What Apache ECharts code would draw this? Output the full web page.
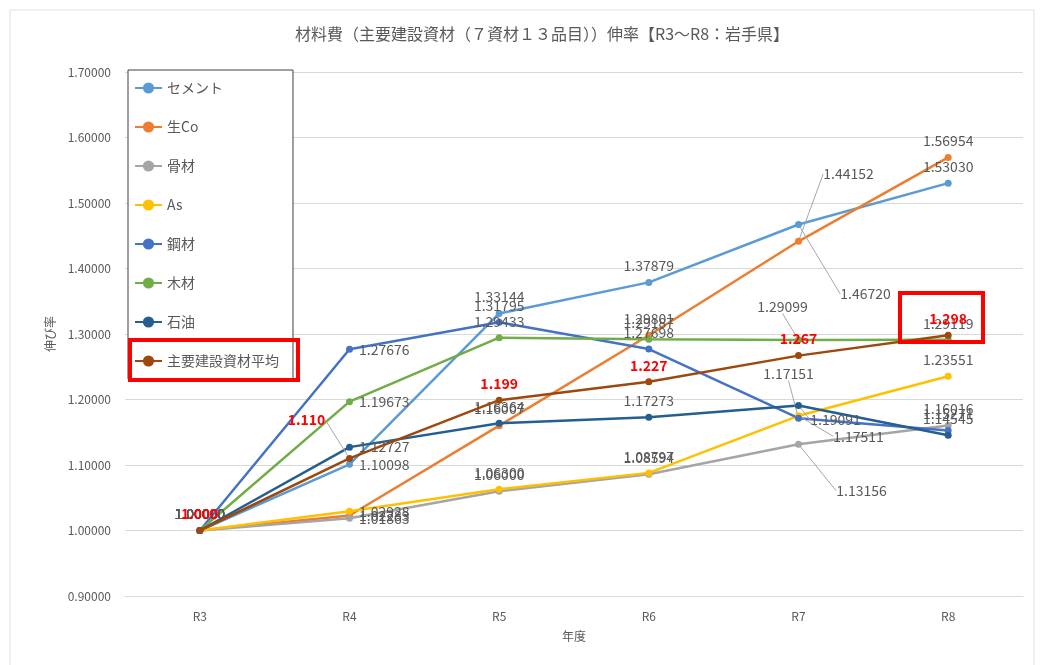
<!DOCTYPE html>
<html>
<head>
<meta charset="utf-8">
<script src="https://cdn.jsdelivr.net/npm/echarts@6/dist/echarts.min.js"></script>
<style>
  html, body { margin: 0; padding: 0; background: #fff; }
  #chart { width: 1045px; height: 665px; }
</style>
</head>
<body>
<div id="chart"></div>
<script>
  // 年度
  var categories = ['R3', 'R4', 'R5', 'R6', 'R7', 'R8'];

  // 各資材の伸び率
  var cement  = [1.00000, 1.10098, 1.33144, 1.37879, 1.46720, 1.53030];
  var namaCo  = [1.00000, 1.02283, 1.16007, 1.29801, 1.44152, 1.56954];
  var kotsu   = [1.00000, 1.01863, 1.06000, 1.08594, 1.13156, 1.16016];
  var asphalt = [1.00000, 1.02928, 1.06300, 1.08797, 1.17511, 1.23551];
  var steel   = [1.00000, 1.27676, 1.31795, 1.27698, 1.17151, 1.15271];
  var wood    = [1.00000, 1.19673, 1.29433, 1.29187, 1.29099, 1.29119];
  var oil     = [1.00000, 1.12727, 1.16364, 1.17273, 1.19091, 1.14545];
  var average = [1.000, 1.110, 1.199, 1.227, 1.267, 1.298];

  // ラベルの引き出し位置 (dataIndex -> [dx, dy])
  var shifts = {
    'セメント': { 4: [67, 86] },
    '生Co': { 4: [50, -51] },
    '骨材': { 4: [63, 63] },
    'As': { 4: [60, 37] },
    '鋼材': { 4: [-10, -28] },
    '木材': { 4: [-16, -17] },
    '石油': { 4: [37, 31] },
    '主要建設資材平均': { 1: [-43, -22] }
  };

  var gray = '#595959';
  var font = '"Noto Sans CJK JP", "Noto Sans", sans-serif';

  function makeSeries(name, values, color, isAvg) {
    var sh = shifts[name] || {};
    return {
      name: name,
      type: 'line',
      data: values.map(function (v, i) {
        return {
          value: v,
          label: { position: (i === 1 && !isAvg) ? 'right' : 'top' },
          labelLine: { show: !!sh[i] }
        };
      }),
      symbol: 'circle',
      symbolSize: 7,
      lineStyle: { width: 2.5, color: color },
      itemStyle: { color: color },
      label: {
        show: true,
        fontFamily: font,
        fontSize: 14,
        fontWeight: isAvg ? 'bold' : 'normal',
        color: isAvg ? '#ff0000' : gray,
        distance: 6,
        formatter: function (p) {
          return p.value.toFixed(isAvg ? 3 : 5);
        }
      },
      labelLine: { lineStyle: { color: '#a6a6a6', width: 1 } },
      labelLayout: function (params) {
        var s = sh[params.dataIndex];
        if (s) return { dx: s[0], dy: s[1] };
        return {};
      },
      z: isAvg ? 5 : 2
    };
  }

  var myChart = echarts.init(document.getElementById('chart'));

  myChart.setOption({
    backgroundColor: '#fff',
    animation: false,
    title: {
      text: '材料費（主要建設資材（７資材１３品目））伸率【R3～R8：岩手県】',
      left: 290,
      top: 21,
      textStyle: { fontFamily: font, fontSize: 16, fontWeight: 'normal', color: gray }
    },
    legend: {
      orient: 'vertical',
      left: 128,
      top: 70,
      padding: [11, 14, 11, 6],
      itemWidth: 27,
      itemHeight: 14,
      itemGap: 25,
      backgroundColor: '#fff',
      borderColor: '#404040',
      borderWidth: 1,
      textStyle: { fontFamily: font, fontSize: 14, color: gray },
      data: ['セメント', '生Co', '骨材', 'As', '鋼材', '木材', '石油', '主要建設資材平均']
    },
    grid: { left: 125, right: 22, top: 72, bottom: 69 },
    xAxis: {
      type: 'category',
      data: categories,
      name: '年度',
      nameLocation: 'middle',
      nameGap: 34,
      nameTextStyle: { fontFamily: font, fontSize: 12, color: gray },
      axisLine: { lineStyle: { color: '#d9d9d9' } },
      axisTick: { show: false },
      axisLabel: { fontFamily: font, fontSize: 12, color: gray, margin: 14 }
    },
    yAxis: {
      type: 'value',
      min: 0.9,
      max: 1.7,
      interval: 0.1,
      name: '伸び率',
      nameLocation: 'middle',
      nameRotate: 90,
      nameGap: 57,
      nameTextStyle: { fontFamily: font, fontSize: 12, color: gray },
      axisLine: { show: false },
      axisTick: { show: false },
      splitLine: { lineStyle: { color: '#d9d9d9' } },
      axisLabel: {
        fontFamily: font, fontSize: 12, color: gray, margin: 14,
        formatter: function (v) { return v.toFixed(5); }
      }
    },
    series: [
      makeSeries('セメント', cement, '#5B9BD5'),
      makeSeries('生Co', namaCo, '#ED7D31'),
      makeSeries('骨材', kotsu, '#A5A5A5'),
      makeSeries('As', asphalt, '#FFC000'),
      makeSeries('鋼材', steel, '#4472C4'),
      makeSeries('木材', wood, '#70AD47'),
      makeSeries('石油', oil, '#255E91'),
      makeSeries('主要建設資材平均', average, '#9E480E', true)
    ],
    graphic: [
      { type: 'rect', z: 100, shape: { x: 10, y: 10, width: 1024, height: 660 },
        style: { fill: 'none', stroke: '#e0e0e0', lineWidth: 1 } },
      { type: 'rect', z: 100, shape: { x: 130, y: 340, width: 168, height: 40 },
        style: { fill: 'none', stroke: '#ff0000', lineWidth: 4 } },
      { type: 'rect', z: 100, shape: { x: 900, y: 293, width: 83, height: 49 },
        style: { fill: 'none', stroke: '#ff0000', lineWidth: 4 } }
    ]
  });

  window.onresize = function () { myChart.resize(); };
</script>
</body>
</html>
